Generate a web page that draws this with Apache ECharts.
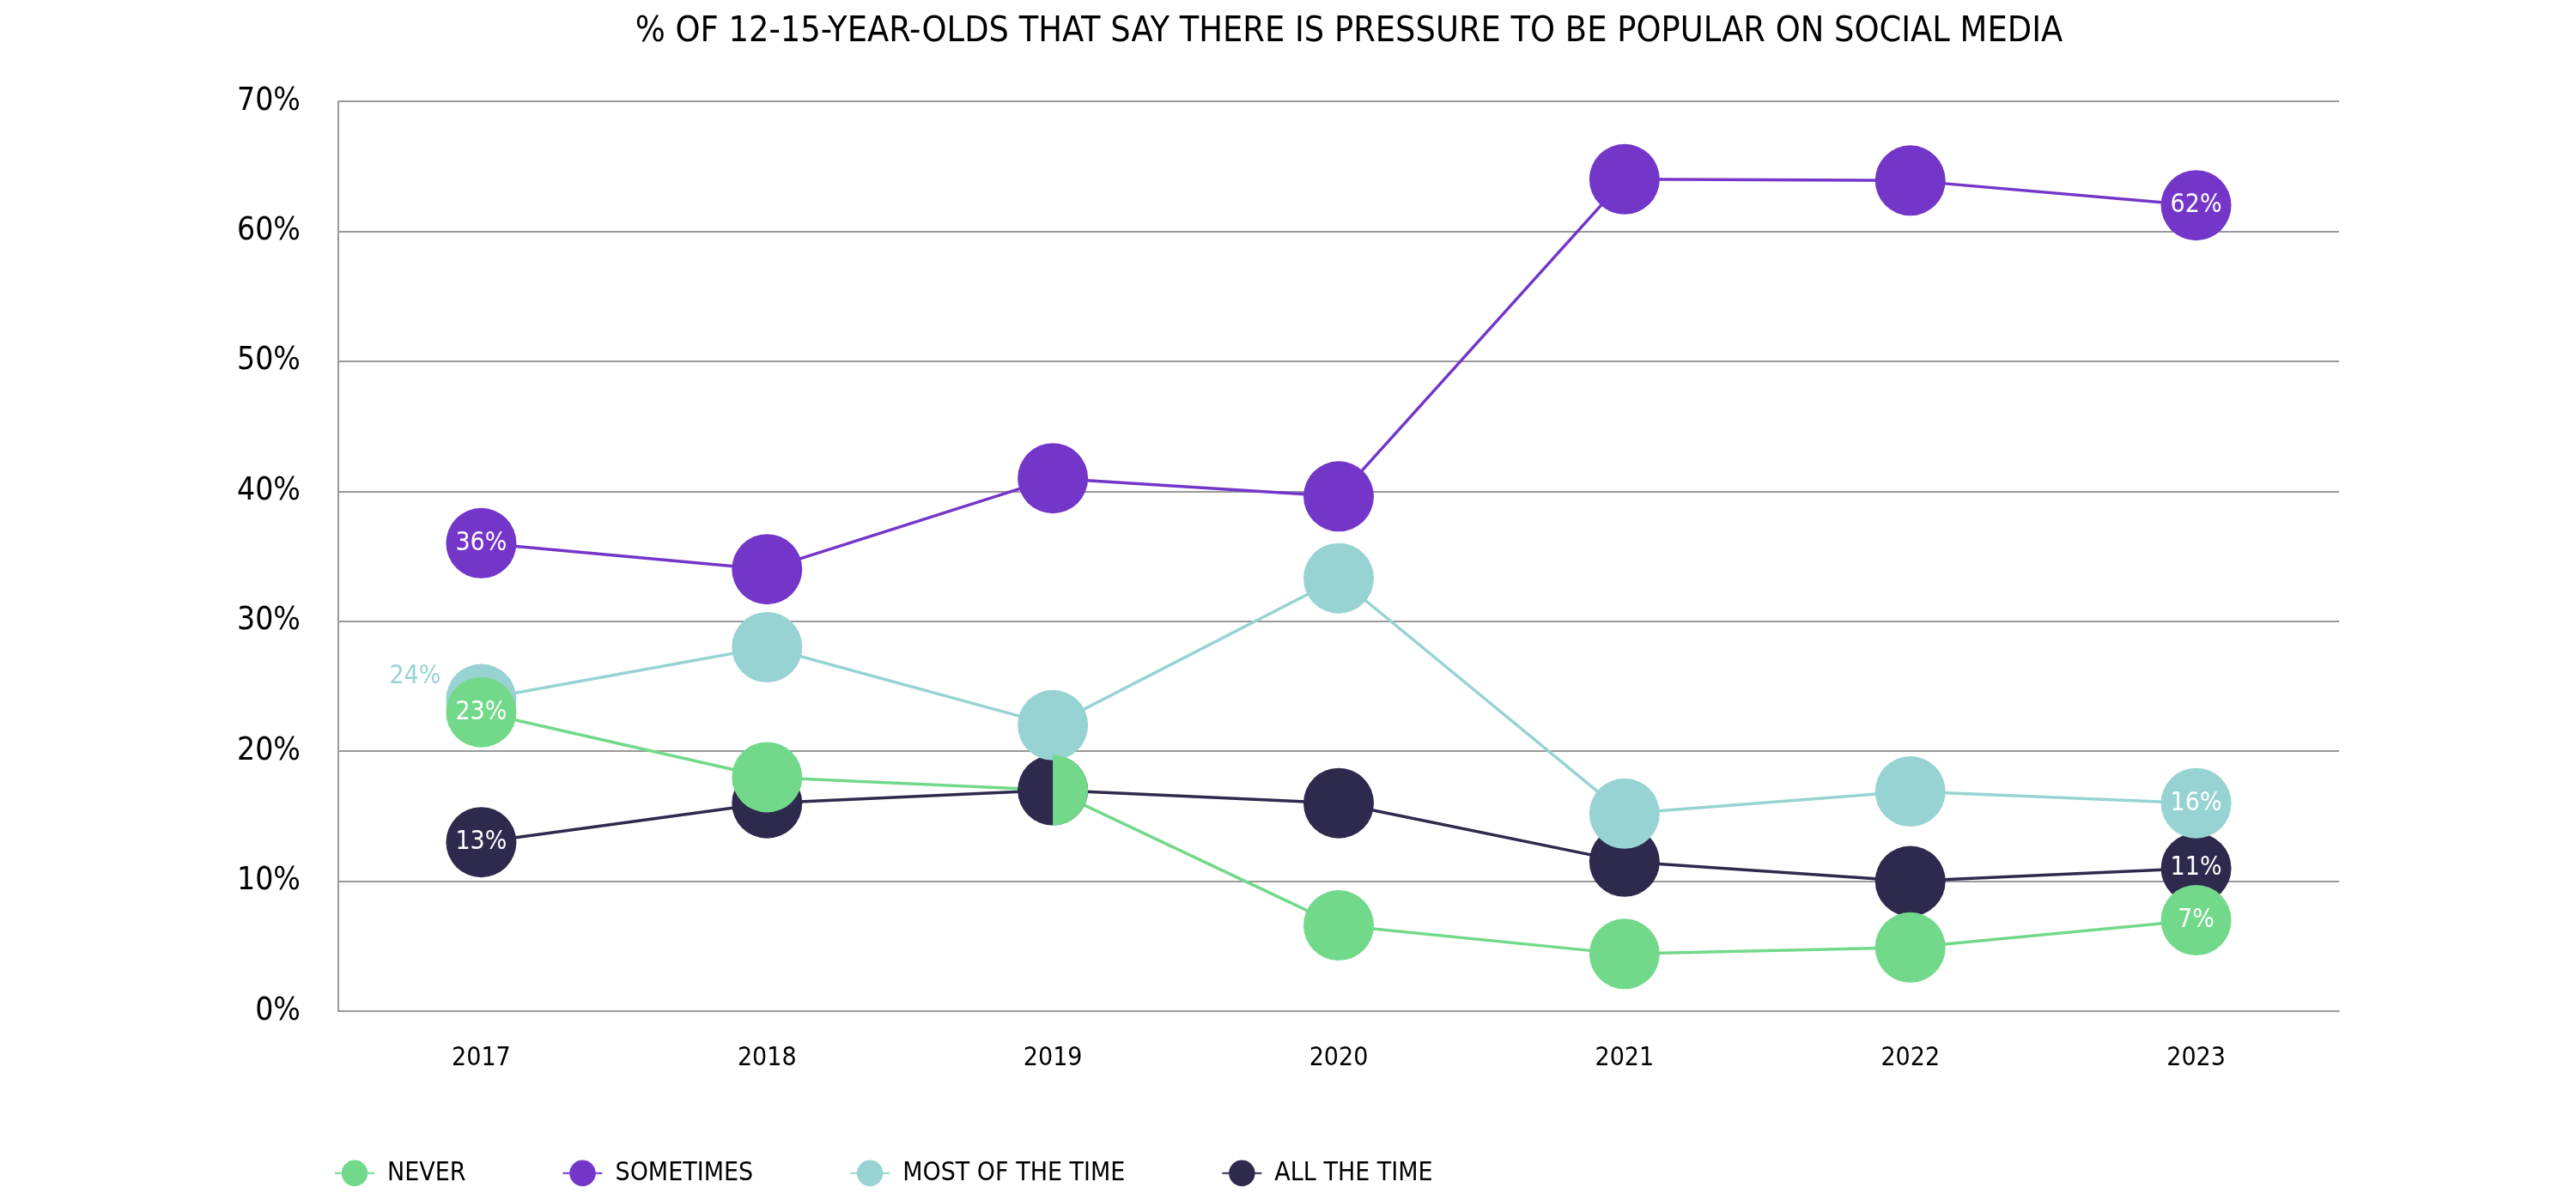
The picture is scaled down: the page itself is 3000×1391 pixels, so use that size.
<!DOCTYPE html>
<html><head><meta charset="utf-8">
<script src="https://cdn.jsdelivr.net/npm/echarts@6/dist/echarts.min.js"></script>
<style>html,body{margin:0;padding:0;background:#fff}#c{width:3000px;height:1391px}</style>
</head><body><div id="c"></div>
<script>
const titleText = '% OF 12-15-YEAR-OLDS THAT SAY THERE IS PRESSURE TO BE POPULAR ON SOCIAL MEDIA';
const years = ['2017','2018','2019','2020','2021','2022','2023'];
const never = [23, 18, 17, 6.6, 4.4, 4.9, 7];
const sometimes = [36, 34, 41, 39.6, 64, 63.9, 62];
const mostOfTheTime = [24, 28, 22, 33.3, 15.2, 16.9, 16];
const allTheTime = [13, 16, 17, 16, 11.5, 10, 11];
const names = ['NEVER','SOMETIMES','MOST OF THE TIME','ALL THE TIME'];
const colors = {NEVER:'#72D98A', SOMETIMES:'#7436C9', 'MOST OF THE TIME':'#98D3D3', 'ALL THE TIME':'#2E2A4D'};
const F = "'Liberation Sans Narrow','DejaVu Sans Condensed',sans-serif";

function items(vals, name){
  return vals.map((v,i)=>{
    const it = {value:v};
    if (i===0 || i===vals.length-1){
      it.label = {show:true};
      if (name==='MOST OF THE TIME' && i===0){
        it.label = {show:true, position:'left', distance:6, offset:[0,-26], color:colors[name]};
      }
    }
    if (name==='NEVER' && i===2){
      it.symbol = 'path://M0,0 A1,1 0 0 1 0,2 Z';
      it.symbolSize = [41,82];
      it.symbolOffset = [20.5,0];
    }
    return it;
  });
}
function mk(name, vals){
  return {
    name, type:'line', data: items(vals,name),
    symbol:'circle', symbolSize:82,
    itemStyle:{color:colors[name]},
    lineStyle:{color:colors[name], width:3.5},
    label:{show:false, position:'inside', color:'#fff', fontFamily:F, fontSize:30, formatter:p=>Math.round(p.value)+'%'},
    emphasis:{disabled:true}, animation:false
  };
}
const chart = echarts.init(document.getElementById('c'));
chart.setOption({
  backgroundColor:'#fff',
  animation:false,
  title:{text:titleText, left:1566, textAlign:'center', top:12,
    textStyle:{fontFamily:F, fontSize:41, fontWeight:'normal', color:'#000'}},
  grid:{left:394, right:276, top:118, bottom:213},
  legend:{data:names, bottom:4, left:384, itemWidth:46, itemHeight:38, itemGap:112,
    textStyle:{fontFamily:F, fontSize:30, color:'#000', padding:[0,0,0,10]}},
  xAxis:{type:'category', data:years, boundaryGap:true,
    axisLine:{lineStyle:{color:'#999', width:2}}, axisTick:{show:false},
    axisLabel:{fontFamily:F, fontSize:30, color:'#000', margin:40}},
  yAxis:{type:'value', min:0, max:70, interval:10,
    axisLine:{show:true, lineStyle:{color:'#999', width:2}}, axisTick:{show:false},
    splitLine:{lineStyle:{color:'#999', width:2}},
    axisLabel:{formatter:'{value}%', fontFamily:F, fontSize:37, color:'#000', margin:44}},
  series:[
    mk('ALL THE TIME', allTheTime),
    mk('SOMETIMES', sometimes),
    mk('MOST OF THE TIME', mostOfTheTime),
    mk('NEVER', never)
  ]
});
</script></body></html>
